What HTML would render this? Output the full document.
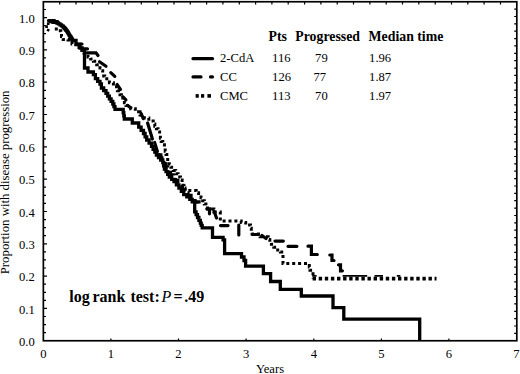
<!DOCTYPE html>
<html><head><meta charset="utf-8"><style>
html,body{margin:0;padding:0;background:#fff;}
body{width:520px;height:374px;overflow:hidden;}
svg{display:block;}
text{font-family:"Liberation Serif",serif;fill:#000;}
</style></head><body>
<svg width="520" height="374" viewBox="0 0 520 374">
<rect width="520" height="374" fill="#fff"/>
<g font-size="12.6">
<text x="34.8" y="346.0" text-anchor="end">0.0</text><text x="34.8" y="313.7" text-anchor="end">0.1</text><text x="34.8" y="281.3" text-anchor="end">0.2</text><text x="34.8" y="249.0" text-anchor="end">0.3</text><text x="34.8" y="216.6" text-anchor="end">0.4</text><text x="34.8" y="184.3" text-anchor="end">0.5</text><text x="34.8" y="152.0" text-anchor="end">0.6</text><text x="34.8" y="119.6" text-anchor="end">0.7</text><text x="34.8" y="87.3" text-anchor="end">0.8</text><text x="34.8" y="54.9" text-anchor="end">0.9</text><text x="34.8" y="22.6" text-anchor="end">1.0</text>
<text x="43.4" y="357.7" text-anchor="middle">0</text><text x="110.9" y="357.7" text-anchor="middle">1</text><text x="178.5" y="357.7" text-anchor="middle">2</text><text x="246.1" y="357.7" text-anchor="middle">3</text><text x="313.8" y="357.7" text-anchor="middle">4</text><text x="381.4" y="357.7" text-anchor="middle">5</text><text x="448.9" y="357.7" text-anchor="middle">6</text><text x="516.5" y="357.7" text-anchor="middle">7</text>
<text x="270" y="373.2" text-anchor="middle">Years</text>
<text transform="translate(8.8 182.4) rotate(-90)" text-anchor="middle" font-size="12.8">Proportion with disease progression</text>
</g>
<path d="M59.7 1.8 V4.5 M76.0 1.8 V4.5 M92.3 1.8 V4.5 M108.7 1.8 V4.5 M125.0 1.8 V4.5 M141.3 1.8 V4.5 M157.6 1.8 V4.5 M174.0 1.8 V4.5 M190.3 1.8 V4.5 M206.6 1.8 V4.5 M222.9 1.8 V4.5 M239.3 1.8 V4.5 M255.6 1.8 V4.5 M271.9 1.8 V4.5 M288.2 1.8 V4.5 M304.6 1.8 V4.5 M320.9 1.8 V4.5 M337.2 1.8 V4.5 M353.5 1.8 V4.5 M369.9 1.8 V4.5 M386.2 1.8 V4.5 M402.5 1.8 V4.5 M418.8 1.8 V4.5 M435.2 1.8 V4.5 M451.5 1.8 V4.5 M467.8 1.8 V4.5 M484.1 1.8 V4.5 M500.5 1.8 V4.5 M43.4 332.7 H46.0 M43.4 324.6 H46.0 M43.4 316.5 H46.0 M43.4 308.4 H47.0 M43.4 300.4 H46.0 M43.4 292.3 H46.0 M43.4 284.2 H46.0 M43.4 276.1 H47.0 M43.4 268.0 H46.0 M43.4 259.9 H46.0 M43.4 251.9 H46.0 M43.4 243.8 H47.0 M43.4 235.7 H46.0 M43.4 227.6 H46.0 M43.4 219.6 H46.0 M43.4 211.5 H47.0 M43.4 203.4 H46.0 M43.4 195.3 H46.0 M43.4 187.2 H46.0 M43.4 179.2 H47.0 M43.4 171.1 H46.0 M43.4 163.0 H46.0 M43.4 154.9 H46.0 M43.4 146.8 H47.0 M43.4 138.8 H46.0 M43.4 130.7 H46.0 M43.4 122.6 H46.0 M43.4 114.5 H47.0 M43.4 106.4 H46.0 M43.4 98.3 H46.0 M43.4 90.3 H46.0 M43.4 82.2 H47.0 M43.4 74.1 H46.0 M43.4 66.0 H46.0 M43.4 57.9 H46.0 M43.4 49.9 H47.0 M43.4 41.8 H46.0 M43.4 33.7 H46.0 M43.4 25.6 H46.0 M43.4 17.6 H47.0 M43.4 9.5 H46.0 M516.8 333.4 H514.2 M516.8 326.0 H514.2 M516.8 318.6 H514.2 M516.8 311.3 H514.2 M516.8 303.9 H514.2 M516.8 296.5 H514.2 M516.8 289.2 H514.2 M516.8 281.8 H514.2 M516.8 274.4 H514.2 M516.8 267.1 H514.2 M516.8 259.7 H514.2 M516.8 252.3 H514.2 M516.8 244.9 H514.2 M516.8 237.6 H514.2 M516.8 230.2 H514.2 M516.8 222.8 H514.2 M516.8 215.5 H514.2 M516.8 208.1 H514.2 M516.8 200.7 H514.2 M516.8 193.3 H514.2 M516.8 186.0 H514.2 M516.8 178.6 H514.2 M516.8 171.2 H514.2 M516.8 163.9 H514.2 M516.8 156.5 H514.2 M516.8 149.1 H514.2 M516.8 141.8 H514.2 M516.8 134.4 H514.2 M516.8 127.0 H514.2 M516.8 119.7 H514.2 M516.8 112.3 H514.2 M516.8 104.9 H514.2 M516.8 97.5 H514.2 M516.8 90.2 H514.2 M516.8 82.8 H514.2 M516.8 75.4 H514.2 M516.8 68.1 H514.2 M516.8 60.7 H514.2 M516.8 53.3 H514.2 M516.8 45.9 H514.2 M516.8 38.6 H514.2 M516.8 31.2 H514.2 M516.8 23.8 H514.2 M516.8 16.5 H514.2 M516.8 9.1 H514.2 M110.9 340.8 V338.6 M178.5 340.8 V338.6 M246.1 340.8 V338.6 M313.8 340.8 V338.6 M381.4 340.8 V338.6 M448.9 340.8 V338.6" stroke="#000" stroke-width="1.2" fill="none"/>
<rect x="43.35" y="1.75" width="473.45" height="339.00" fill="none" stroke="#000" stroke-width="1.7"/>
<g fill="none" stroke="#000" stroke-width="3.3" stroke-linejoin="miter">
<path d="M54.8 28.9 H58.0 V30.8 H60.8 V33.0 H61.5 V36.5 H63.2 V39.5 H68.0 V40.0 H72.0 V44.0 H76.0 V47.5 H80.0 V50.5 H84.0 V53.0 H88.0 V57.0 H90.7 V59.1 H93.4 V61.3 H96.7 V64.7 H100.0 V68.0 H101.3 V70.7 H102.7 V73.4 H103.7 V76.1 H104.7 V78.7 H109.4 V82.7 H113.4 V86.7 H117.4 V90.7 H120.0 V94.8 H121.4 V97.4 H122.8 V100.0 H124.4 V102.8 H126.0 V105.5 H130.7 V108.7 H135.3 V111.8 H140.0 V115.0 H144.4 V118.0 H148.8 V120.9 H153.2 V123.9 H154.8 V126.3 H156.4 V128.7 H158.0 V131.9 H159.6 V135.1 H160.4 V138.3 H161.2 V141.6 H162.8 V144.8 H164.4 V148.0 H165.2 V151.2 H166.0 V154.4 H166.8 V157.7 H167.7 V160.9 H169.3 V164.1 H170.9 V167.3 H173.3 V170.5 H175.7 V173.7 H178.1 V176.9 H180.5 V180.1 H182.1 V183.3 H183.1 V185.7 H184.0 V188.0 H185.0 V190.4 L191.4 190.4 H196.2 V192.8 H198.6 V195.2 H201.0 V197.7 H202.7 V200.8 H204.3 V204.0 H205.9 V206.4 H207.5 V208.9 H213.9 V212.1 H220.3 V216.1 L220.3 221.0 L238.0 221.0 H241.2 V222.5 H245.7 V225.0 H250.5 V228.3 H251.3 V231.1 H252.1 V233.9 H260.1 V236.7 H268.2 V239.5 H269.8 V241.9 H271.4 V244.3 H273.8 V247.2 H276.2 V250.0 H280.4 V252.0 H281.7 V255.0 H283.0 V258.0 L283.0 263.5 L308.6 263.5 H309.3 V266.9 H310.0 V270.2 H313.0 V271.0 L313.0 278.6" stroke-dasharray="3 2.9" stroke-width="3"/>
<path d="M49.5 23.6 H46.6 V29.5 L51 31.3" stroke-dasharray="2.6 2" stroke-width="2.6"/>
<path d="M49.0 21.5 H53.0 V22.3 H57.0 V24.3"/>
<path d="M158.0 155.0 H160.8 V158.0 H163.5 V161.0 H164.8 V164.0 H166.0 V167.0 H167.5 V169.7 H169.0 V172.3 H170.5 V175.0 H173.0 V177.8 H175.5 V180.5 H177.8 V183.5 H180.0 V186.5 H182.5 V189.8 H185.0 V193.0 H188.0 V195.5 H191.0 V198.0 H195.0 V202.0 H199.0 V204.0" stroke-dasharray="8.5 5"/>
<path d="M76.5 44 H82 M84 48.8 H87.5 M87.5 52.8 H96 L98 55.5 M99.5 61.8 L106 66.3 M110.8 72.6 L114.8 76.3 M117 84.5 L120.5 89.5 M122.7 96.6 L125.9 99.8 M127.5 105.4 L130.7 107.8 M141 113.5 L143.3 118.5 M147.6 123 L152.4 139 M154.6 142.5 L157.4 151.5" stroke-linecap="round" stroke-width="3.2"/>
<path d="M206.8 208.8 H209.5 V213.8 M214 211 L216.5 218 M220.5 225.6 H228 M238.8 225 V235 M252.5 234.5 H258.5 M262 235.5 L266 238.5 M275 241.1 H283.3 M288 246.3 H296.9 M308 246.2 H311.4 V254.5 H317.3 M329.8 255 H332 V260.5 H334 M338.5 264.8 H340.5 V270.8 H342.4" stroke-linecap="round" stroke-width="3.2"/>
<path d="M312.6 278.6 H436.5" stroke-dasharray="3.4 2.7" stroke-width="3.8"/>
<path d="M342.6 275.9 H367.2 M374.5 275.9 H383 M396.8 275.9 H400.4 M312.2 275.9 H316.6" stroke-width="1.8"/>
<path d="M72.5 40.5 H76.0 V44.5 H80.0 V48.0 H82.2 V50.2 H84.5 V52.5 L84.5 68.0 H88.0 V72.0 H93.4 V74.7 H95.4 V78.7 H97.7 V81.3 H100.0 V84.0 H101.4 V88.0 H103.7 V90.7 H106.0 V93.4 H107.7 V96.1 H109.4 V98.8 H111.1 V101.4 H112.8 V104.0 H113.9 V106.7 H115.0 V109.4 L122.7 109.4 H123.2 V112.6 H123.8 V115.8 H124.3 V119.0 H132.3 V123.0 H138.7 V127.1 H141.1 V130.3 H143.5 V133.5 H145.1 V136.8 H146.7 V140.0 H149.1 V143.2 H151.5 V146.4 H153.1 V149.3 H154.8 V152.1 H156.4 V155.0 H158.5 V157.5 H160.7 V160.0 H162.8 V162.5 H163.6 V165.8 H164.4 V169.0 H166.0 V171.7 H167.7 V174.3 H169.3 V177.0 H171.7 V179.3 H174.0 V181.7 H176.4 V184.9 H178.9 V188.2 H181.3 V191.4 H183.7 V194.6 H186.8 V196.9 H189.8 V199.3 H192.2 V201.9 H194.7 V204.4 L194.7 211.9 H196.1 V214.7 H197.5 V217.5 H198.9 V220.3 H200.3 V223.1 H201.2 V225.4 H202.2 V227.8 L212.5 227.8 L212.5 237.4 L221.5 237.4 H223.1 V239.9 H224.6 V242.5 L224.6 253.6 L240.0 253.6 H241.5 V257.0 H244.0 V260.5 H245.6 V261.0 L245.6 266.2 L263.4 266.2 L263.4 273.6 L270.6 273.6 L270.6 281.5 L280.3 281.5 L280.3 289.3 L301.3 289.3 L301.3 296.0 L333.0 296.0 L333.0 307.7 L343.8 307.7 L343.8 319.2 L419.7 319.2 L419.7 341.0"/>
<path d="M48.5 20.6 L51.0 20.6 H54.0 V21.6 H57.0 V23.0 H58.5 V23.9 H60.0 V24.8 H61.5 V25.8 H63.0 V26.8 H63.8 V27.7 H64.7 V28.6 H65.5 V29.5 H66.1 V30.4 H66.8 V31.2 H67.4 V32.1 H68.0 V33.0 H68.5 V33.9 H69.0 V34.8 H69.5 V35.6 H70.0 V36.5 H70.7 V37.5 H71.3 V38.5 H71.9 V39.5 H72.5 V40.5" stroke-linecap="round"/>
</g>
<g font-size="13.8" font-weight="bold">
<text x="268.6" y="41.1">Pts</text>
<text x="295.3" y="41.1">Progressed</text>
<text x="368.6" y="41.1">Median time</text>
</g>
<g font-size="12.6">
<text x="220" y="62.1">2-CdA</text><text x="272.1" y="62.1">116</text><text x="315.1" y="62.1">79</text><text x="369.1" y="62.1">1.96</text>
<text x="220" y="80.7">CC</text><text x="272.1" y="80.7">126</text><text x="313.4" y="80.7">77</text><text x="369.1" y="80.7">1.87</text>
<text x="220" y="99.9">CMC</text><text x="272.1" y="99.9">113</text><text x="315.1" y="99.9">70</text><text x="369.1" y="99.9">1.97</text>
</g>
<g stroke="#000" stroke-width="3.2" fill="none">
<path d="M193 58.7 H212.5" stroke-linecap="round"/>
<path d="M193 76.9 H201 M210.5 76.9 H212.5" stroke-linecap="round"/>

</g>
<rect x="195.6" y="94.1" width="3.2" height="3.6" fill="#000"/><rect x="201" y="94.1" width="3.2" height="3.6" fill="#000"/><rect x="207.4" y="94.1" width="3.6" height="3.6" fill="#000"/>
<g font-size="16" font-weight="bold">
<text x="69.3" y="302.2">log</text><text x="92.4" y="302.2">rank</text><text x="130.4" y="302.2">test:</text>
<text x="161.5" y="302.2" font-weight="normal" font-style="italic">P</text><text x="173.6" y="302.2">=</text><text x="184.2" y="302.2">.49</text>
</g>
</svg>
</body></html>
